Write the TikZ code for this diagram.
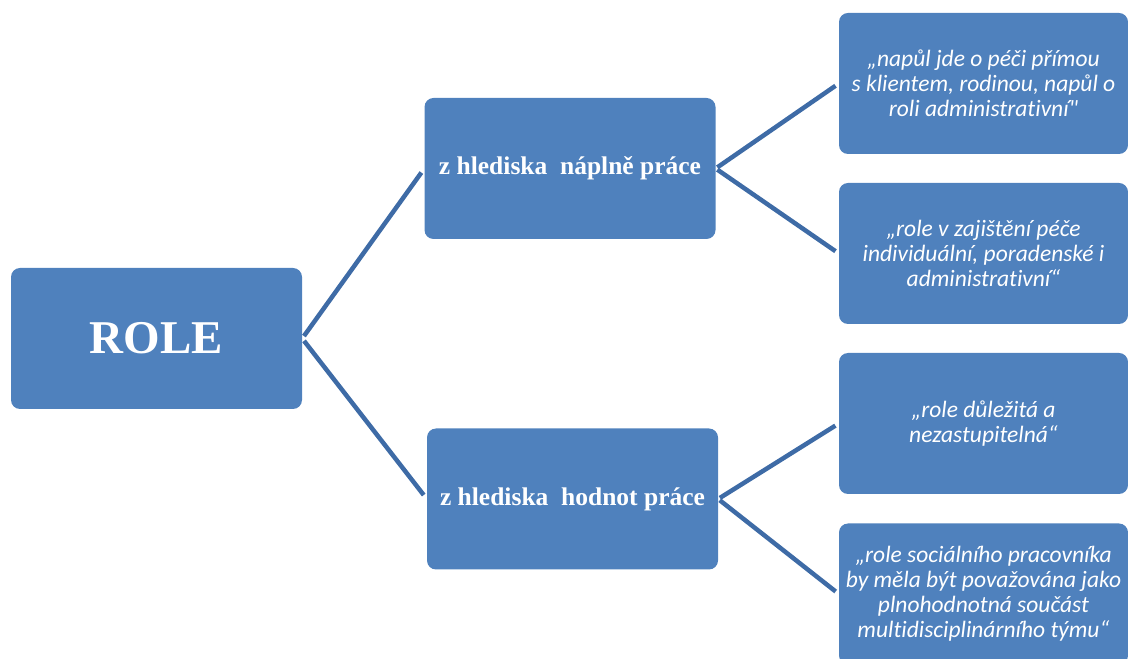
\documentclass[tikz,border=0pt]{standalone}
\usepackage{fontspec}
\setmainfont{Liberation Serif}
\newfontfamily\quotefont[Ligatures=NoCommon]{Carlito}
\usetikzlibrary{positioning}
\definecolor{boxblue}{HTML}{4F81BD}
\definecolor{lineblue}{HTML}{3E6BA6}
\tikzset{
  block/.style={rectangle, rounded corners=9pt, fill=boxblue,
    text=white, inner sep=0pt, align=center,
    minimum width=291pt, minimum height=141pt},
  rolebox/.style={block, font=\fontsize{47}{56}\selectfont\bfseries},
  viewbox/.style={block, font=\fontsize{25.5}{30}\selectfont\bfseries},
  quotebox/.style={block, minimum width=289pt,
    font=\quotefont\itshape\fontsize{23.5}{25}\selectfont},
  link/.style={draw=lineblue, line width=4.5pt}
}

\begin{document}
\begin{tikzpicture}[x=1pt, y=1pt,
      node distance=100pt,
      on grid]

    \useasboundingbox (0,0) rectangle (1128,659);

    \node[rolebox]
      (Role) at (156.5,320.5) {ROLE};
    \node[viewbox]
      (Naplne) [above right=170pt and 413.5pt of Role] {z hlediska\ \ náplně práce};
    \node[viewbox]
      (Hodnot) [below right=160.5pt and 416pt of Role] {z hlediska\ \ hodnot práce};
    \node[quotebox]
      (Napul) [above right=85pt and 413.5pt of Naplne]
      {„napůl jde o péči přímou\\s klientem, rodinou, napůl o\\roli administrativní"};
    \node[quotebox]
      (Zajisteni) [below right=85pt and 413.5pt of Naplne]
      {„role v zajištění péče\\individuální, poradenské i\\administrativní“};
    \node[quotebox]
      (Dulezita) [above right=75.5pt and 411pt of Hodnot]
      {„role důležitá a\\nezastupitelná“};
    \node[quotebox]
      (Soucast) [below right=95pt and 411pt of Hodnot]
      {„role sociálního pracovníka\\by měla být považována jako\\plnohodnotná součást\\multidisciplinárního týmu“};

    \path[link, shorten <=3pt, shorten >=5pt]
      (Role.east) edge (Naplne.west)
      (Role.east) edge (Hodnot.west);
    \path[link, shorten <=2pt, shorten >=4pt]
      (Naplne.east) edge (Napul.west)
      (Naplne.east) edge (Zajisteni.west)
      (Hodnot.east) edge (Dulezita.west)
      (Hodnot.east) edge (Soucast.west);

  \end{tikzpicture}
\end{document}
